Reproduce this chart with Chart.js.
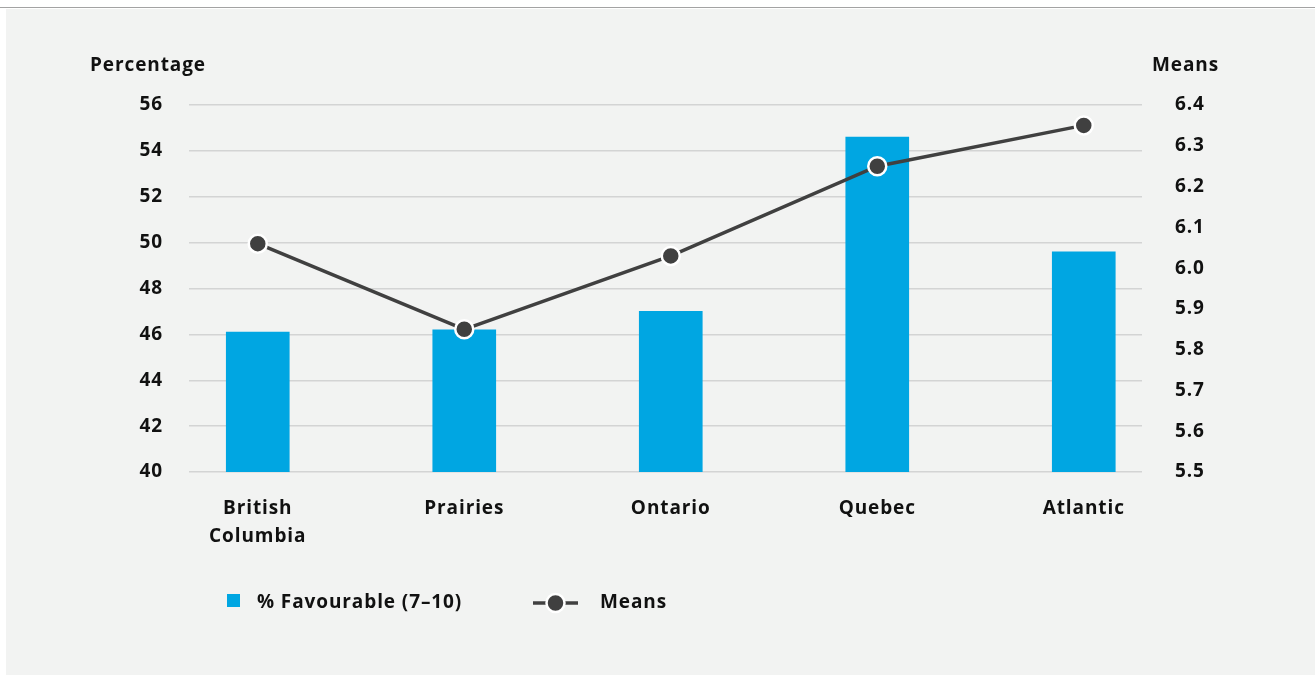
<!DOCTYPE html>
<html>
<head>
<meta charset="utf-8">
<script src="https://cdn.jsdelivr.net/npm/chart.js@4.4.1/dist/chart.umd.min.js"></script>
<style>
  html, body { margin: 0; padding: 0; background: #ffffff; }
  #frame { position: relative; width: 1315px; height: 675px; overflow: hidden; }
  #rule { position: absolute; left: 0; top: 7px; width: 1315px; height: 1px; background: #a3a3a3; }
  #panel { position: absolute; left: 6px; top: 9px; right: 0; bottom: 0; background: #f2f3f2; }
  #chart { position: absolute; left: 0; top: 0; }
</style>
</head>
<body>
<div id="frame">
  <div id="rule"></div>
  <div id="panel"></div>
  <canvas id="chart" width="1315" height="675"></canvas>
</div>
<script>
// Regions and survey results
const regions = [["British", "Columbia"], "Prairies", "Ontario", "Quebec", "Atlantic"];
const favourable = [46.1, 46.2, 47.0, 54.6, 49.6];   // % rating 7–10
const means = [6.06, 5.85, 6.03, 6.25, 6.35];       // mean score
const pctTicks = [40, 42, 44, 46, 48, 50, 52, 54, 56];
const meanTicks = [5.5, 5.6, 5.7, 5.8, 5.9, 6.0, 6.1, 6.2, 6.3, 6.4];

const seriesNames = ["% Favourable (7\u201310)", "Means"];
const axisTitles = ["Percentage", "Means"];

const BAR = "#00a6e2";
const LINE = "#404040";
const TEXT = "#111111";
const FONT = "'Open Sans', Lato, sans-serif";
const FSIZE = 19;
const TRACKING = "0.9px";

const idx = regions.map((_, i) => i);

// Slightly wider letter spacing for every text drawn on the canvas
const tracking = {
  id: "tracking",
  beforeLayout(chart) { chart.ctx.letterSpacing = TRACKING; },
  beforeDraw(chart) { chart.ctx.letterSpacing = TRACKING; }
};

// Axis titles above each value axis, and the legend row under the chart
const decorations = {
  id: "decorations",
  afterDraw(chart) {
    const ctx = chart.ctx;
    const area = chart.chartArea;
    ctx.save();
    ctx.letterSpacing = TRACKING;
    ctx.fillStyle = TEXT;
    ctx.font = "bold " + FSIZE + "px " + FONT;
    ctx.textBaseline = "middle";
    ctx.textAlign = "left";
    ctx.fillText(axisTitles[0], 90, area.top - 39);
    ctx.fillText(axisTitles[1], 1152, area.top - 39);

    const ly = 603;
    // bar swatch
    ctx.fillStyle = BAR;
    ctx.fillRect(227, ly - 9, 13, 13);
    ctx.fillStyle = TEXT;
    ctx.fillText(seriesNames[0], 257, ly);
    // line + point swatch
    ctx.strokeStyle = LINE;
    ctx.lineWidth = 3.5;
    ctx.beginPath();
    ctx.moveTo(533, ly);
    ctx.lineTo(578, ly);
    ctx.stroke();
    ctx.beginPath();
    ctx.arc(555.5, ly, 9, 0, Math.PI * 2);
    ctx.fillStyle = LINE;
    ctx.fill();
    ctx.strokeStyle = "#ffffff";
    ctx.lineWidth = 2.5;
    ctx.stroke();
    ctx.fillStyle = TEXT;
    ctx.fillText(seriesNames[1], 600, ly);
    ctx.restore();
  }
};

new Chart(document.getElementById("chart"), {
  type: "bar",
  data: {
    datasets: [
      {
        type: "line",
        label: seriesNames[1],
        data: idx.map(i => ({ x: i, y: means[i] })),
        yAxisID: "y1",
        borderColor: LINE,
        borderWidth: 3.5,
        backgroundColor: LINE,
        pointRadius: 9,
        pointHoverRadius: 9,
        pointBackgroundColor: LINE,
        pointBorderColor: "#ffffff",
        pointBorderWidth: 2.5,
        tension: 0,
        order: 0
      },
      {
        type: "bar",
        label: seriesNames[0],
        data: idx.map(i => ({ x: i, y: favourable[i] })),
        yAxisID: "y",
        backgroundColor: BAR,
        barThickness: 63,
        order: 1
      }
    ]
  },
  options: {
    responsive: false,
    animation: false,
    events: [],
    layout: { padding: { top: 105, left: 0, right: 0, bottom: 0 } },
    plugins: { legend: { display: false }, tooltip: { enabled: false } },
    scales: {
      x: {
        type: "linear",
        offset: false,
        min: -0.333,
        max: 4.282,
        afterBuildTicks: s => { s.ticks = idx.map(v => ({ value: v })); },
        afterFit: s => { s.height = 203; },
        grid: { display: false, drawTicks: false, offset: false },
        border: { display: false },
        ticks: {
          autoSkip: false,
          maxRotation: 0,
          padding: 23,
          color: TEXT,
          font: { family: FONT, size: FSIZE, weight: "bold", lineHeight: 1.47 },
          callback: v => regions[v]
        }
      },
      y: {
        position: "left",
        min: 40,
        max: 56,
        afterBuildTicks: s => { s.ticks = pctTicks.map(v => ({ value: v })); },
        afterFit: s => { s.width = 189; },
        grid: { color: "#d3d4d4", lineWidth: 1.5, drawTicks: false },
        border: { display: false },
        ticks: {
          padding: 26,
          color: TEXT,
          font: { family: FONT, size: FSIZE, weight: "bold" }
        }
      },
      y1: {
        position: "right",
        min: 5.5,
        max: 6.4,
        afterBuildTicks: s => { s.ticks = meanTicks.map(v => ({ value: v })); },
        afterFit: s => { s.width = 173; },
        grid: { display: false, drawTicks: false },
        border: { display: false },
        ticks: {
          padding: 33,
          color: TEXT,
          font: { family: FONT, size: FSIZE, weight: "bold" },
          callback: v => Number(v).toFixed(1)
        }
      }
    }
  },
  plugins: [tracking, decorations]
});
</script>
</body>
</html>
